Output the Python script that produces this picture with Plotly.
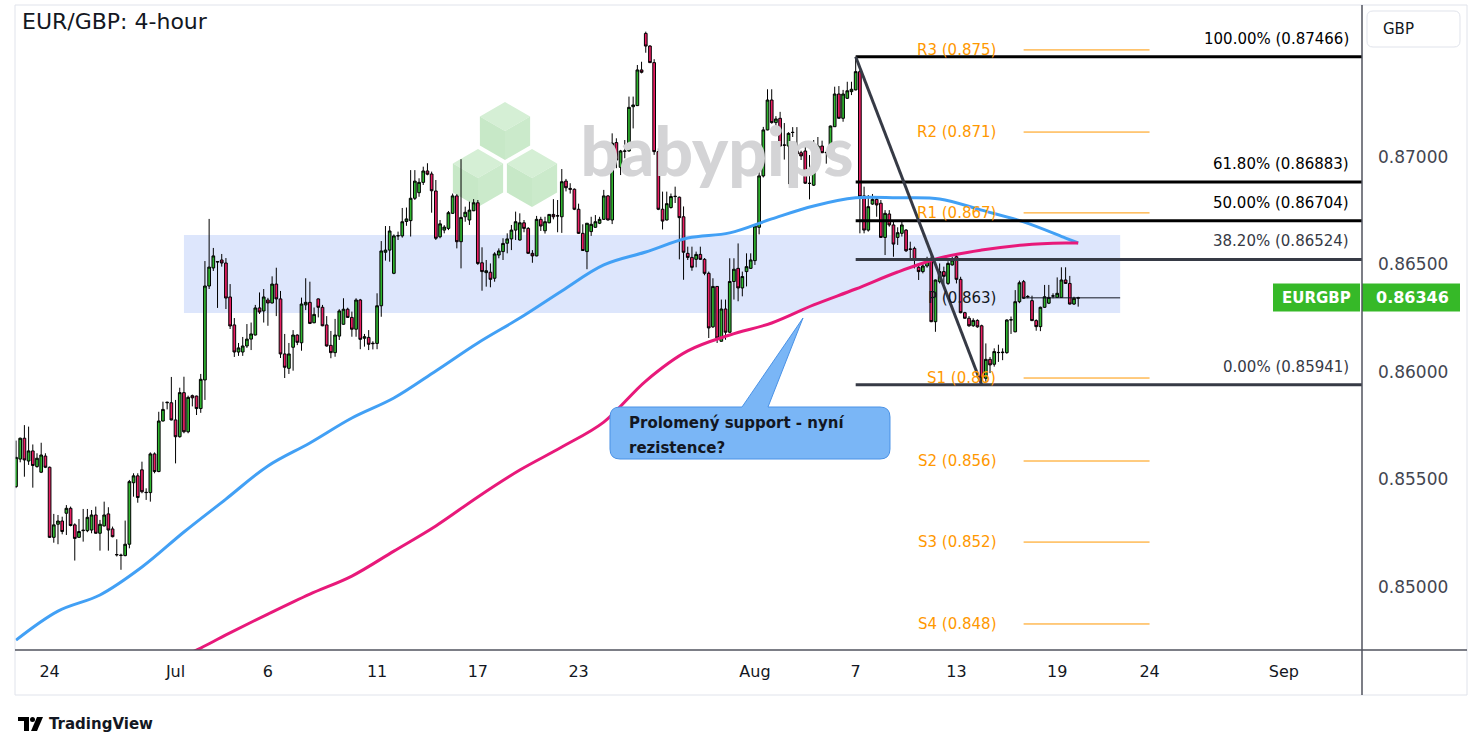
import plotly.graph_objects as go
from datetime import datetime, timedelta

# ---------------- data ----------------
TITLE = "EUR/GBP: 4-hour"
SYMBOL = "EURGBP"
CURRENCY = "GBP"
FIRST_BAR = "2025-06-22 17:00"   # first 4-hour bar, New York session clock

OPEN = [
    0.85467, 0.85595, 0.85692, 0.85586, 0.85633, 0.85560, 0.85534, 0.85609, 0.85557, 0.85231,
    0.85292, 0.85307, 0.85343, 0.85366, 0.85289, 0.85231, 0.85262, 0.85262, 0.85265, 0.85335,
    0.85250, 0.85284, 0.85340, 0.85270, 0.85151, 0.85148, 0.85146, 0.85199, 0.85485, 0.85517,
    0.85545, 0.85439, 0.85439, 0.85619, 0.85537, 0.85772, 0.85857, 0.85857, 0.85777, 0.85699,
    0.85904, 0.85722, 0.85890, 0.85888, 0.85830, 0.85963, 0.86400, 0.86484, 0.86514, 0.86521,
    0.86507, 0.86349, 0.86219, 0.86093, 0.86093, 0.86121, 0.86153, 0.86172, 0.86298, 0.86284,
    0.86335, 0.86321, 0.86409, 0.86340, 0.86084, 0.86017, 0.86115, 0.86172, 0.86136, 0.86312,
    0.86324, 0.86229, 0.86340, 0.86301, 0.86219, 0.86124, 0.86090, 0.86167, 0.86222, 0.86292,
    0.86254, 0.86199, 0.86335, 0.86157, 0.86161, 0.86134, 0.86133, 0.86308, 0.86557, 0.86567,
    0.86459, 0.86633, 0.86633, 0.86700, 0.86704, 0.86808, 0.86834, 0.86882, 0.86935, 0.86921,
    0.86842, 0.86629, 0.86660, 0.86668, 0.86738, 0.86819, 0.86606, 0.86722, 0.86707, 0.86750,
    0.86787, 0.86508, 0.86462, 0.86464, 0.86436, 0.86544, 0.86560, 0.86599, 0.86619, 0.86660,
    0.86614, 0.86694, 0.86668, 0.86552, 0.86540, 0.86710, 0.86657, 0.86694, 0.86733, 0.86727,
    0.86722, 0.86888, 0.86854, 0.86850, 0.86757, 0.86645, 0.86560, 0.86653, 0.86673, 0.86692,
    0.86710, 0.86819, 0.86707, 0.87067, 0.86952, 0.87028, 0.87028, 0.87234, 0.87239, 0.87405,
    0.87575, 0.87516, 0.87439, 0.87025, 0.86757, 0.86707, 0.86765, 0.86816, 0.86813, 0.86722,
    0.86552, 0.86533, 0.86524, 0.86547, 0.86524, 0.86459, 0.86210, 0.86398, 0.86143, 0.86293,
    0.86185, 0.86421, 0.86482, 0.86391, 0.86467, 0.86482, 0.86518, 0.86673, 0.86912, 0.87126,
    0.87265, 0.87160, 0.87180, 0.87056, 0.87051, 0.87115, 0.87033, 0.87020, 0.87028, 0.86878,
    0.86869, 0.87029, 0.87051, 0.87020, 0.87017, 0.87141, 0.87293, 0.87180, 0.87273, 0.87304,
    0.87312, 0.87397, 0.86819, 0.86660, 0.86781, 0.86803, 0.86785, 0.86626, 0.86735, 0.86684,
    0.86626, 0.86645, 0.86660, 0.86572, 0.86575, 0.86487, 0.86467, 0.86493, 0.86529, 0.86234,
    0.86420, 0.86467, 0.86412, 0.86498, 0.86536, 0.86431, 0.86276, 0.86250, 0.86215, 0.86240,
    0.86215, 0.85971, 0.86059, 0.86036, 0.86090, 0.86090, 0.86090, 0.86242, 0.86187, 0.86327,
    0.86420, 0.86350, 0.86332, 0.86239, 0.86211, 0.86301, 0.86320, 0.86353, 0.86347, 0.86347,
    0.86428, 0.86412, 0.86316, 0.86343,
]
HIGH = [
    0.85681, 0.85695, 0.85753, 0.85746, 0.85663, 0.85622, 0.85671, 0.85622, 0.85560, 0.85340,
    0.85335, 0.85327, 0.85381, 0.85374, 0.85296, 0.85316, 0.85363, 0.85363, 0.85358, 0.85374,
    0.85312, 0.85397, 0.85371, 0.85281, 0.85222, 0.85155, 0.85309, 0.85498, 0.85529, 0.85529,
    0.85583, 0.85459, 0.85626, 0.85626, 0.85815, 0.85862, 0.85862, 0.85977, 0.85870, 0.85927,
    0.85978, 0.85890, 0.85895, 0.85890, 0.85991, 0.86516, 0.86712, 0.86577, 0.86516, 0.86549,
    0.86530, 0.86409, 0.86251, 0.86135, 0.86163, 0.86223, 0.86230, 0.86312, 0.86370, 0.86386,
    0.86345, 0.86445, 0.86485, 0.86377, 0.86177, 0.86135, 0.86195, 0.86175, 0.86346, 0.86436,
    0.86420, 0.86300, 0.86342, 0.86312, 0.86260, 0.86191, 0.86247, 0.86292, 0.86343, 0.86299,
    0.86281, 0.86343, 0.86340, 0.86177, 0.86195, 0.86143, 0.86366, 0.86609, 0.86679, 0.86679,
    0.86640, 0.86653, 0.86763, 0.86765, 0.86939, 0.86939, 0.86901, 0.86955, 0.86971, 0.86932,
    0.86893, 0.86707, 0.86683, 0.86749, 0.86830, 0.86827, 0.86990, 0.86769, 0.86792, 0.86804,
    0.86800, 0.86580, 0.86521, 0.86505, 0.86557, 0.86575, 0.86622, 0.86645, 0.86684, 0.86746,
    0.86738, 0.86707, 0.86674, 0.86567, 0.86726, 0.86722, 0.86722, 0.86733, 0.86804, 0.86800,
    0.86944, 0.86898, 0.86878, 0.86854, 0.86783, 0.86687, 0.86692, 0.86722, 0.86730, 0.86722,
    0.86847, 0.86823, 0.87110, 0.87087, 0.87033, 0.87079, 0.87281, 0.87281, 0.87428, 0.87443,
    0.87583, 0.87520, 0.87455, 0.87040, 0.86839, 0.86839, 0.86830, 0.86862, 0.86816, 0.86770,
    0.86583, 0.86583, 0.86560, 0.86583, 0.86530, 0.86467, 0.86436, 0.86400, 0.86337, 0.86337,
    0.86529, 0.86529, 0.86598, 0.86467, 0.86552, 0.86552, 0.86688, 0.86939, 0.87140, 0.87315,
    0.87315, 0.87190, 0.87210, 0.87158, 0.87115, 0.87139, 0.87139, 0.87029, 0.87051, 0.87009,
    0.87079, 0.87093, 0.87076, 0.87029, 0.87146, 0.87327, 0.87330, 0.87312, 0.87350, 0.87350,
    0.87466, 0.87405, 0.86862, 0.86823, 0.86828, 0.86815, 0.86800, 0.86753, 0.86753, 0.86707,
    0.86673, 0.86700, 0.86665, 0.86606, 0.86583, 0.86495, 0.86505, 0.86536, 0.86544, 0.86430,
    0.86505, 0.86490, 0.86515, 0.86536, 0.86544, 0.86443, 0.86280, 0.86260, 0.86250, 0.86245,
    0.86220, 0.86133, 0.86070, 0.86110, 0.86127, 0.86110, 0.86245, 0.86258, 0.86381, 0.86425,
    0.86428, 0.86358, 0.86355, 0.86245, 0.86304, 0.86405, 0.86405, 0.86366, 0.86440, 0.86487,
    0.86487, 0.86447, 0.86350, 0.86350,
]
LOW = [
    0.85460, 0.85580, 0.85513, 0.85568, 0.85462, 0.85555, 0.85530, 0.85553, 0.85228, 0.85206,
    0.85199, 0.85245, 0.85242, 0.85282, 0.85123, 0.85228, 0.85211, 0.85255, 0.85250, 0.85248,
    0.85169, 0.85282, 0.85169, 0.85231, 0.85142, 0.85080, 0.85143, 0.85180, 0.85420, 0.85392,
    0.85436, 0.85405, 0.85397, 0.85529, 0.85534, 0.85770, 0.85826, 0.85775, 0.85575, 0.85695,
    0.85715, 0.85715, 0.85840, 0.85800, 0.85810, 0.85870, 0.86386, 0.86470, 0.86298, 0.86490,
    0.86293, 0.86200, 0.86070, 0.86075, 0.86075, 0.86112, 0.86102, 0.86170, 0.86270, 0.86230,
    0.86215, 0.86319, 0.86260, 0.86065, 0.85972, 0.85991, 0.86006, 0.86125, 0.86099, 0.86288,
    0.86223, 0.86227, 0.86254, 0.86213, 0.86118, 0.86064, 0.86071, 0.86149, 0.86220, 0.86252,
    0.86164, 0.86164, 0.86106, 0.86118, 0.86102, 0.86105, 0.86106, 0.86257, 0.86518, 0.86513,
    0.86455, 0.86614, 0.86625, 0.86680, 0.86630, 0.86800, 0.86815, 0.86870, 0.86915, 0.86741,
    0.86614, 0.86622, 0.86645, 0.86660, 0.86735, 0.86575, 0.86482, 0.86699, 0.86684, 0.86748,
    0.86498, 0.86378, 0.86397, 0.86394, 0.86420, 0.86529, 0.86521, 0.86552, 0.86567, 0.86614,
    0.86611, 0.86650, 0.86550, 0.86508, 0.86538, 0.86656, 0.86644, 0.86692, 0.86710, 0.86650,
    0.86647, 0.86840, 0.86830, 0.86753, 0.86642, 0.86563, 0.86478, 0.86633, 0.86671, 0.86688,
    0.86708, 0.86705, 0.86688, 0.86948, 0.86916, 0.86994, 0.87025, 0.87133, 0.87237, 0.87389,
    0.87485, 0.87437, 0.87010, 0.86753, 0.86663, 0.86705, 0.86760, 0.86786, 0.86524, 0.86429,
    0.86521, 0.86471, 0.86487, 0.86521, 0.86450, 0.86158, 0.86205, 0.86135, 0.86141, 0.86150,
    0.86182, 0.86337, 0.86329, 0.86352, 0.86398, 0.86480, 0.86498, 0.86640, 0.86905, 0.87124,
    0.87155, 0.87110, 0.87049, 0.86988, 0.86874, 0.87093, 0.87009, 0.86986, 0.86875, 0.86803,
    0.86865, 0.87025, 0.87018, 0.86969, 0.87009, 0.87140, 0.87178, 0.87164, 0.87270, 0.87288,
    0.87310, 0.86645, 0.86645, 0.86653, 0.86778, 0.86722, 0.86624, 0.86544, 0.86676, 0.86536,
    0.86591, 0.86630, 0.86558, 0.86521, 0.86482, 0.86428, 0.86459, 0.86485, 0.86232, 0.86187,
    0.86412, 0.86410, 0.86405, 0.86495, 0.86412, 0.86273, 0.86248, 0.86210, 0.86210, 0.86206,
    0.85941, 0.85955, 0.85995, 0.86025, 0.86047, 0.86055, 0.86085, 0.86177, 0.86185, 0.86320,
    0.86340, 0.86343, 0.86237, 0.86192, 0.86190, 0.86298, 0.86316, 0.86343, 0.86345, 0.86345,
    0.86410, 0.86314, 0.86312, 0.86304,
]
CLOSE = [
    0.85603, 0.85692, 0.85591, 0.85633, 0.85565, 0.85599, 0.85614, 0.85557, 0.85231, 0.85289,
    0.85307, 0.85258, 0.85366, 0.85286, 0.85226, 0.85258, 0.85264, 0.85324, 0.85335, 0.85250,
    0.85292, 0.85335, 0.85265, 0.85234, 0.85150, 0.85147, 0.85199, 0.85490, 0.85517, 0.85416,
    0.85443, 0.85440, 0.85619, 0.85537, 0.85772, 0.85826, 0.85859, 0.85777, 0.85699, 0.85904,
    0.85722, 0.85882, 0.85880, 0.85830, 0.85966, 0.86400, 0.86488, 0.86540, 0.86512, 0.86507,
    0.86344, 0.86214, 0.86093, 0.86112, 0.86121, 0.86153, 0.86177, 0.86298, 0.86279, 0.86349,
    0.86321, 0.86409, 0.86340, 0.86084, 0.86022, 0.86084, 0.86172, 0.86138, 0.86316, 0.86324,
    0.86226, 0.86268, 0.86301, 0.86215, 0.86121, 0.86090, 0.86172, 0.86284, 0.86292, 0.86254,
    0.86199, 0.86335, 0.86152, 0.86164, 0.86129, 0.86132, 0.86308, 0.86563, 0.86567, 0.86656,
    0.86633, 0.86634, 0.86699, 0.86712, 0.86808, 0.86888, 0.86882, 0.86935, 0.86920, 0.86843,
    0.86622, 0.86689, 0.86674, 0.86741, 0.86819, 0.86606, 0.86719, 0.86743, 0.86753, 0.86787,
    0.86505, 0.86467, 0.86471, 0.86431, 0.86549, 0.86563, 0.86598, 0.86619, 0.86660, 0.86699,
    0.86694, 0.86668, 0.86552, 0.86540, 0.86710, 0.86679, 0.86699, 0.86733, 0.86722, 0.86726,
    0.86885, 0.86857, 0.86850, 0.86757, 0.86645, 0.86565, 0.86692, 0.86687, 0.86699, 0.86710,
    0.86819, 0.86707, 0.87064, 0.86986, 0.87028, 0.87027, 0.87231, 0.87242, 0.87405, 0.87394,
    0.87516, 0.87439, 0.87025, 0.86757, 0.86702, 0.86783, 0.86816, 0.86817, 0.86718, 0.86557,
    0.86533, 0.86487, 0.86547, 0.86524, 0.86459, 0.86205, 0.86398, 0.86158, 0.86293, 0.86185,
    0.86421, 0.86478, 0.86391, 0.86444, 0.86490, 0.86521, 0.86679, 0.86912, 0.87126, 0.87265,
    0.87160, 0.87177, 0.87051, 0.87055, 0.87110, 0.87114, 0.87014, 0.87005, 0.86878, 0.86877,
    0.87033, 0.87051, 0.87020, 0.87021, 0.87144, 0.87293, 0.87180, 0.87293, 0.87308, 0.87315,
    0.87397, 0.86815, 0.86660, 0.86769, 0.86803, 0.86777, 0.86626, 0.86738, 0.86684, 0.86595,
    0.86648, 0.86684, 0.86564, 0.86571, 0.86521, 0.86467, 0.86493, 0.86526, 0.86234, 0.86428,
    0.86467, 0.86445, 0.86505, 0.86521, 0.86431, 0.86276, 0.86250, 0.86215, 0.86240, 0.86210,
    0.85971, 0.86059, 0.86033, 0.86095, 0.86091, 0.86092, 0.86242, 0.86243, 0.86327, 0.86415,
    0.86343, 0.86351, 0.86239, 0.86211, 0.86301, 0.86350, 0.86347, 0.86354, 0.86366, 0.86428,
    0.86412, 0.86316, 0.86343, 0.86346,
]

# moving averages (bar index, value)
MA_FAST_BARS = [0, 10, 20, 30, 40, 50, 60, 70, 80, 90, 100, 110, 120, 130,
                140, 150, 160, 170, 180, 190, 200, 210, 220, 230, 240, 250, 253]
MA_FAST = [0.84753, 0.84888, 0.84963, 0.85093, 0.85256, 0.85409, 0.85563, 0.85670,
           0.85786, 0.85879, 0.86005, 0.86135, 0.86251, 0.86377, 0.86498, 0.86558,
           0.86623, 0.86647, 0.86712, 0.86772, 0.86810, 0.86810, 0.86805, 0.86753,
           0.86698, 0.86623, 0.86600]
MA_SLOW_BARS = [40, 44, 50, 60, 70, 80, 90, 100, 110, 120, 130, 140, 150, 160,
                170, 180, 190, 200, 210, 220, 230, 240, 250, 253]
MA_SLOW = [0.84680, 0.84716, 0.84777, 0.84874, 0.84967, 0.85051, 0.85167, 0.85284,
           0.85419, 0.85544, 0.85651, 0.85767, 0.85958, 0.86098, 0.86172, 0.86228,
           0.86312, 0.86386, 0.86465, 0.86530, 0.86567, 0.86591, 0.86600, 0.86600]

FIB_HIGH, FIB_HIGH_BAR = 0.87466, 200
FIB_LOW, FIB_LOW_BAR = 0.85941, 230
FIB_RATIOS = [1.0, 0.618, 0.5, 0.382, 0.0]

PIVOT_NAMES = ["R3", "R2", "R1", "P", "S1", "S2", "S3", "S4"]
PIVOT_LEVELS = [0.87498, 0.87116, 0.86740, 0.86345, 0.85972, 0.85586, 0.85209, 0.84828]
PIVOT_WEEK = ("2025-08-17 17:00", "2025-08-24 17:00")

ZONE_LOW, ZONE_HIGH = 0.86274, 0.86637
ZONE_BARS = (40, 263)

TICK_DATES = ["2025-06-24", "2025-07-01", "2025-07-06", "2025-07-11", "2025-07-17",
              "2025-07-23", "2025-08-01", "2025-08-07", "2025-08-13", "2025-08-19",
              "2025-08-24", "2025-09-01"]
PRICE_TICKS = [0.850, 0.855, 0.860, 0.865, 0.870]

CALLOUT_LINES = ["Prolomený support - nyní", "rezistence?"]
WATERMARK = "babypips"
BRAND = "TradingView"

# ---------------- geometry helpers ----------------
W, H = 1482, 751
ML, MR, MT, MB = 15, 120, 5, 101
PW, PH = W - ML - MR, H - MT - MB
XMIN, XMAX = -0.24, 320.6
YMIN, YMAX = 0.84707, 0.87707


def px(x):
    return (x - ML) / PW


def py(y):
    return (H - MB - y) / PH


def path(points, close=True):
    s = "M " + " L ".join(f"{px(a):.5f},{py(b):.5f}" for a, b in points)
    return s + (" Z" if close else "")


def P(a, b):
    return f"{px(a):.5f},{py(b):.5f}"


def rounded(x0, y0, x1, y1, r):
    return (f"M {P(x0 + r, y0)} L {P(x1 - r, y0)} Q {P(x1, y0)} {P(x1, y0 + r)} "
            f"L {P(x1, y1 - r)} Q {P(x1, y1)} {P(x1 - r, y1)} L {P(x0 + r, y1)} "
            f"Q {P(x0, y1)} {P(x0, y1 - r)} L {P(x0, y0 + r)} Q {P(x0, y0)} {P(x0 + r, y0)} Z")


def bar_times(start, n):
    t = datetime.strptime(start, "%Y-%m-%d %H:%M")
    out = []
    while len(out) < n:
        out.append(t)
        t = t + timedelta(hours=4)
        wd = t.weekday()
        if (wd == 4 and t.hour >= 17) or wd == 5 or (wd == 6 and t.hour < 17):
            t = (t + timedelta(days=(6 - wd) % 7)).replace(hour=17, minute=0)
    return out


times = bar_times(FIRST_BAR, 340)
bars = list(range(len(CLOSE)))


def first_bar_on(d):
    for i, t in enumerate(times):
        if t.date() == d:
            return i


def bar_at(s):
    return times.index(datetime.strptime(s, "%Y-%m-%d %H:%M"))


tickvals, ticktext = [], []
for s in TICK_DATES:
    d = datetime.strptime(s, "%Y-%m-%d").date()
    tickvals.append(first_bar_on(d))
    ticktext.append(d.strftime("%b") if d.day == 1 else str(d.day))

FONT = "DejaVu Sans"
DARK = "#131722"
GREEN = "#2fb52f"
PINK = "#e91e63"
ORANGE = "#ff9800"

fig = go.Figure()

# watermark text (under the candles)
fig.add_trace(go.Scatter(
    x=[167], y=[0.86990], mode="text", text=[WATERMARK],
    textfont=dict(family="Lato", size=68, color="#d4d4d6", weight=900),
    hoverinfo="skip", showlegend=False))

fig.add_trace(go.Candlestick(
    x=bars, open=OPEN, high=HIGH, low=LOW, close=CLOSE,
    increasing=dict(fillcolor=GREEN, line=dict(color="#000000", width=1)),
    decreasing=dict(fillcolor=PINK, line=dict(color="#000000", width=1)),
    whiskerwidth=0, hoverinfo="skip", showlegend=False))

fig.add_trace(go.Scatter(x=MA_FAST_BARS, y=MA_FAST, mode="lines",
                         line=dict(color="#42a0f5", width=3, shape="spline"),
                         hoverinfo="skip", showlegend=False))
fig.add_trace(go.Scatter(x=MA_SLOW_BARS, y=MA_SLOW, mode="lines",
                         line=dict(color="#e8197a", width=3, shape="spline"),
                         hoverinfo="skip", showlegend=False))

shapes = []
annotations = []

# support/resistance zone
shapes.append(dict(type="rect", xref="x", yref="y", x0=ZONE_BARS[0], x1=ZONE_BARS[1],
                   y0=ZONE_LOW, y1=ZONE_HIGH, fillcolor="#dde6fc",
                   line=dict(width=0), layer="below"))

# babypips cube logo
for cx, cy in [(505, 131), (478, 178), (532, 178)]:
    r = 29
    k = 0.866 * r
    top = [(cx, cy - r), (cx + k, cy - r / 2), (cx, cy), (cx - k, cy - r / 2)]
    left = [(cx - k, cy - r / 2), (cx, cy), (cx, cy + r), (cx - k, cy + r / 2)]
    right = [(cx, cy), (cx + k, cy - r / 2), (cx + k, cy + r / 2), (cx, cy + r)]
    for pts, col in [(top, "#d5efd5"), (left, "#c7e8c7"), (right, "#cbeacb")]:
        shapes.append(dict(type="path", xref="paper", yref="paper", path=path(pts),
                           fillcolor=col, line=dict(width=0), layer="below"))

# fibonacci retracement
for ratio in FIB_RATIOS:
    lvl = FIB_LOW + (FIB_HIGH - FIB_LOW) * ratio
    col = "#000000" if ratio >= 0.5 else "#363a45"
    shapes.append(dict(type="line", xref="x", yref="y", x0=FIB_HIGH_BAR, x1=XMAX,
                       y0=lvl, y1=lvl, line=dict(color=col, width=3), layer="above"))
    annotations.append(dict(xref="paper", yref="y", x=px(1351), y=lvl, yshift=18,
                            xanchor="right", yanchor="middle", showarrow=False,
                            text=f"{ratio * 100:.2f}% ({lvl + 1e-9:.5f})",
                            font=dict(family=FONT, size=15, color=col)))

# trend line from swing high to swing low
shapes.append(dict(type="line", xref="x", yref="y", x0=FIB_HIGH_BAR, y0=FIB_HIGH,
                   x1=FIB_LOW_BAR, y1=FIB_LOW, line=dict(color="#363a45", width=3),
                   layer="above"))

# weekly pivots
p0, p1 = bar_at(PIVOT_WEEK[0]), bar_at(PIVOT_WEEK[1])
for name, lvl in zip(PIVOT_NAMES, PIVOT_LEVELS):
    col = DARK if name == "P" else ORANGE
    x_end = ZONE_BARS[1] if name == "P" else p1
    shapes.append(dict(type="line", xref="x", yref="y", x0=p0, x1=x_end, y0=lvl, y1=lvl,
                       line=dict(color=col, width=1), layer="above"))
    lab = f"{lvl:.3f}".rstrip("0").rstrip(".")
    annotations.append(dict(xref="x", yref="y", x=p0, y=lvl, xshift=-26,
                            xanchor="right", yanchor="middle", showarrow=False,
                            text=f"{name} ({lab})",
                            font=dict(family=FONT, size=15, color=col)))

# callout
cx0, cy0, cx1, cy1, rr = 610, 407, 890, 459, 10
callout = (f"M {P(cx0 + rr, cy0)} L {P(742, cy0)} L {P(803, 318)} L {P(768, cy0)} "
           f"L {P(cx1 - rr, cy0)} Q {P(cx1, cy0)} {P(cx1, cy0 + rr)} L {P(cx1, cy1 - rr)} "
           f"Q {P(cx1, cy1)} {P(cx1 - rr, cy1)} L {P(cx0 + rr, cy1)} Q {P(cx0, cy1)} "
           f"{P(cx0, cy1 - rr)} L {P(cx0, cy0 + rr)} Q {P(cx0, cy0)} {P(cx0 + rr, cy0)} Z")
shapes.append(dict(type="path", xref="paper", yref="paper", path=callout,
                   fillcolor="#7ab6f6", line=dict(color="#4a92e6", width=1), layer="above"))
for i, line in enumerate(CALLOUT_LINES):
    annotations.append(dict(xref="paper", yref="paper", x=px(627), y=py(423 + 25 * i),
                            xanchor="left", yanchor="middle", showarrow=False, text=line,
                            font=dict(family=FONT, size=15, color=DARK, weight="bold")))

# last price labels
last = CLOSE[-1]
shapes.append(dict(type="rect", xref="paper", yref="y", ysizemode="pixel", yanchor=last,
                   x0=px(1273), x1=px(1360), y0=-14, y1=14, fillcolor="#36b928",
                   line=dict(width=0), layer="above"))
shapes.append(dict(type="rect", xref="paper", yref="y", ysizemode="pixel", yanchor=last,
                   x0=px(1362), x1=px(1460), y0=-14, y1=14, fillcolor="#36b928",
                   line=dict(width=0), layer="above"))
annotations.append(dict(xref="paper", yref="y", x=px(1316), y=last, showarrow=False,
                        xanchor="center", yanchor="middle", text=SYMBOL,
                        font=dict(family=FONT, size=15, color="#ffffff", weight="bold")))
annotations.append(dict(xref="paper", yref="y", x=px(1412), y=last, showarrow=False,
                        xanchor="center", yanchor="middle", text=f"{last:.5f}",
                        font=dict(family=FONT, size=16, color="#ffffff", weight="bold")))

# currency box
shapes.append(dict(type="path", xref="paper", yref="paper", path=rounded(1367, 11, 1460, 47, 6),
                   fillcolor="#ffffff", line=dict(color="#e0e3eb", width=1)))
annotations.append(dict(xref="paper", yref="paper", x=px(1398), y=py(29), showarrow=False,
                        xanchor="center", yanchor="middle", text=CURRENCY,
                        font=dict(family=FONT, size=15, color=DARK)))

# frame lines
frame = "#e0e3eb"
for a, b in [((15, 5), (1467, 5)), ((15, 5), (15, 695)), ((1467, 5), (1467, 695)),
             ((15, 695), (1467, 695))]:
    shapes.append(dict(type="line", xref="paper", yref="paper", x0=px(a[0]), y0=py(a[1]),
                       x1=px(b[0]), y1=py(b[1]), line=dict(color=frame, width=1)))
shapes.append(dict(type="line", xref="paper", yref="paper", x0=px(15), y0=py(650),
                   x1=px(1467), y1=py(650), line=dict(color="#50535e", width=1.5)))
shapes.append(dict(type="line", xref="paper", yref="paper", x0=px(1362), y0=py(5),
                   x1=px(1362), y1=py(695), line=dict(color="#50535e", width=1.5)))

# TradingView brand
shapes.append(dict(type="path", xref="paper", yref="paper",
                   path=path([(18, 717), (29, 717), (29, 731), (24, 731), (24, 721), (18, 721)]),
                   fillcolor="#000000", line=dict(width=0)))
shapes.append(dict(type="circle", xref="paper", yref="paper", x0=px(30), x1=px(35),
                   y0=py(722), y1=py(717), fillcolor="#000000", line=dict(width=0)))
shapes.append(dict(type="path", xref="paper", yref="paper",
                   path=path([(37, 717), (43, 717), (37, 731), (31, 731)]),
                   fillcolor="#000000", line=dict(width=0)))
annotations.append(dict(xref="paper", yref="paper", x=px(47), y=py(724), showarrow=False,
                        xanchor="left", yanchor="middle", text=BRAND,
                        font=dict(family=FONT, size=15, color=DARK, weight="bold")))

# title
annotations.append(dict(xref="paper", yref="paper", x=px(20), y=py(22), showarrow=False,
                        xanchor="left", yanchor="middle", text=TITLE,
                        font=dict(family=FONT, size=22, color=DARK)))

fig.update_layout(
    width=W, height=H, margin=dict(l=ML, r=MR, t=MT, b=MB),
    paper_bgcolor="#ffffff", plot_bgcolor="#ffffff",
    shapes=shapes, annotations=annotations, showlegend=False,
    boxgap=0.2, boxgroupgap=0.2,
    xaxis=dict(range=[XMIN, XMAX], tickvals=tickvals, ticktext=ticktext,
               showgrid=False, zeroline=False, showline=False, ticks="",
               rangeslider=dict(visible=False), ticklabelstandoff=10,
               tickfont=dict(family=FONT, size=16, color=DARK)),
    yaxis=dict(range=[YMIN, YMAX], side="right", tickvals=PRICE_TICKS,
               ticktext=[f"{v:.5f}" for v in PRICE_TICKS], showgrid=False,
               zeroline=False, showline=False, ticks="", ticklabelstandoff=15,
               tickfont=dict(family=FONT, size=17, color="#434651")),
)

fig.write_html("out.html", config={"displayModeBar": False},
               post_script="document.body.style.margin='0px';")
